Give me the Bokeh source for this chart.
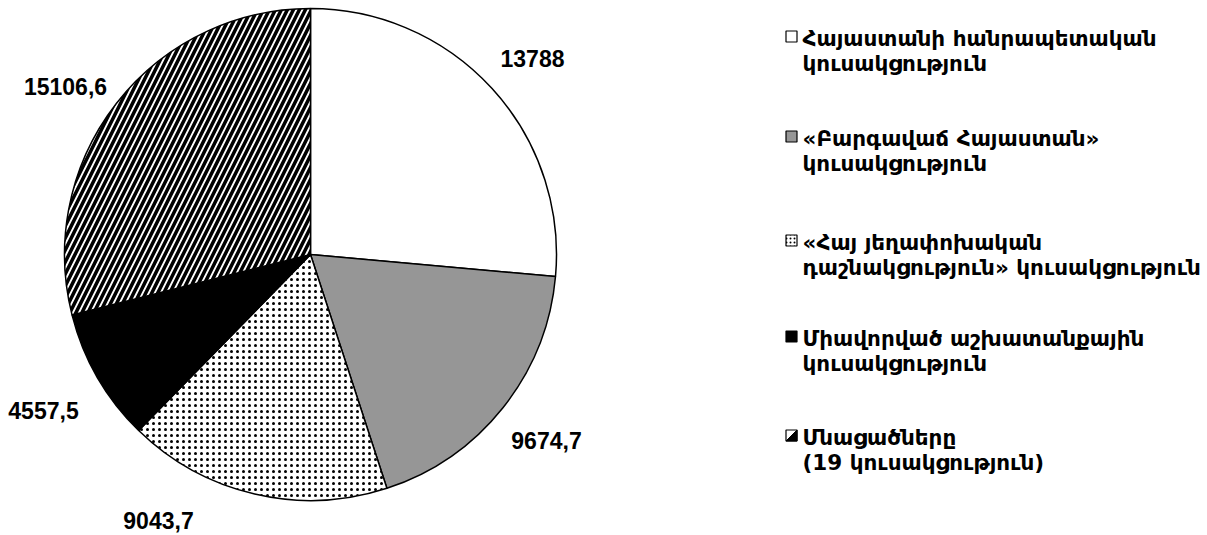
import math
from bokeh.plotting import figure
from bokeh.models import Range1d
from bokeh.core.properties import value
from bokeh.embed import file_html
from bokeh.resources import INLINE

# ---- data ----
parties = [
    "Հայաստանի հանրապետական\nկուսակցություն",
    "«Բարգավաճ Հայաստան»\nկուսակցություն",
    "«Հայ յեղափոխական\nդաշնակցություն» կուսակցություն",
    "Միավորված աշխատանքային\nկուսակցություն",
    "Մնացածները\n(19 կուսակցություն)",
]
values = [13788, 9674.7, 9043.7, 4557.5, 15106.6]
value_labels = ["13788", "9674,7", "9043,7", "4557,5", "15106,6"]

# ---- styles / layout ----
fills = ["white", "#969696", "white", "black", "white"]
hatches = [" ", " ", "dot", " ", "/"]
hatch_scales = [12, 12, 6, 12, 12]
hatch_weights = [1, 1, 1.2, 1, 3.5]

W, H = 1200, 535
def sx(x): return x
def sy(y): return H - y

cx, cy, R = sx(310), sy(254), 246
label_pos = [(532, 58), (546, 440), (158, 520), (43, 410), (65, 86)]
legend_y = [38, 138, 242, 338, 437]
line_gap = 25

p = figure(width=W, height=H, output_backend="svg", toolbar_location=None,
           x_range=Range1d(0, W), y_range=Range1d(0, H), min_border=0)
p.axis.visible = False
p.grid.visible = False
p.outline_line_color = None
p.background_fill_color = "white"

total = sum(values)
start = math.pi / 2
for i, v in enumerate(values):
    end = start - v / total * 2 * math.pi
    p.wedge(x=cx, y=cy, radius=R, start_angle=start, end_angle=end, direction="clock",
            fill_color=fills[i], line_color="black", line_width=1.5,
            hatch_pattern=hatches[i], hatch_color="black",
            hatch_scale=hatch_scales[i], hatch_weight=hatch_weights[i])
    start = end

# value labels
p.text(x=[sx(a) for a, b in label_pos], y=[sy(b) for a, b in label_pos], text=value_labels,
       text_font=value("Liberation Sans"), text_font_style="bold", text_font_size="23px",
       text_align="center", text_baseline="middle", text_color="black")

# legend
for i, lab in enumerate(parties):
    y0 = legend_y[i]
    bx, by = sx(791), sy(y0 - 2)
    p.rect(x=bx, y=by, width=11, height=11, fill_color=fills[i],
           line_color="black", line_width=1.2,
           hatch_pattern=("dot" if hatches[i] == "dot" else " "), hatch_color="black",
           hatch_scale=4, hatch_weight=1.3)
    if hatches[i] == "/":
        p.patch(x=[bx - 5.5, bx + 5.5, bx + 5.5], y=[by - 5.5, by + 5.5, by - 5.5],
                fill_color="black", line_color="black", line_width=1)
    lines = lab.split("\n")
    p.text(x=[sx(802)] * len(lines), y=[sy(y0 + k * line_gap) for k in range(len(lines))],
           text=lines, text_font=value("DejaVu Sans"), text_font_style="bold",
           text_font_size="21.5px", text_align="left", text_baseline="middle", text_color="black")

open("out.html", "w").write(file_html(p, INLINE))
